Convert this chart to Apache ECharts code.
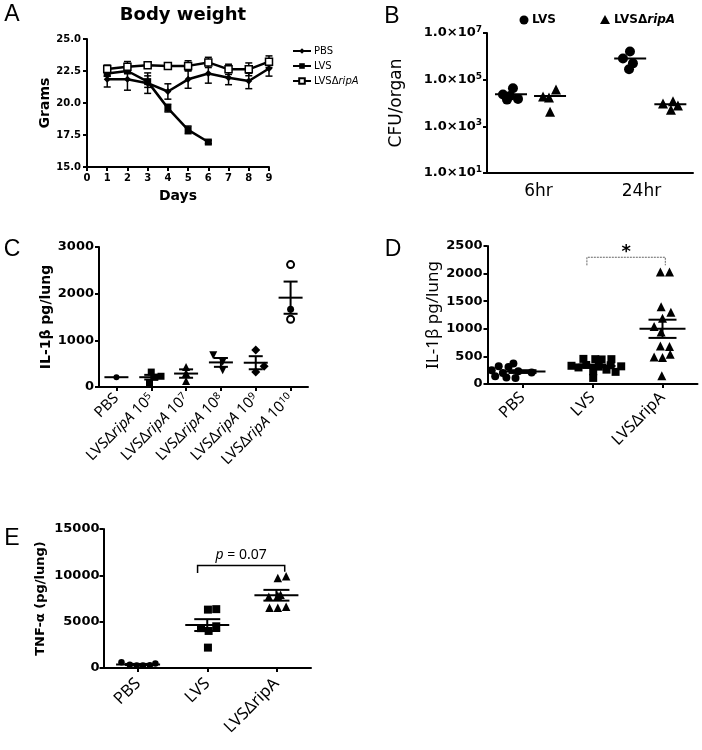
<!DOCTYPE html>
<html><head><meta charset="utf-8">
<script src="https://cdn.jsdelivr.net/npm/echarts@6/dist/echarts.min.js"></script>
<style>html,body{margin:0;padding:0;background:#fff}#c{width:702px;height:750px}</style>
</head><body><div id="c"></div>
<script>
// ---------- Panel A : body weight ----------
const aDays    = [1, 2, 3, 4, 5, 6, 7, 8, 9];
const aPBS     = [21.85, 21.85, 21.55, 20.9, 21.85, 22.3, 21.98, 21.72, 22.7];
const aPBSsem  = [0.6, 0.85, 0.8, 0.6, 0.7, 0.75, 0.55, 0.6, 0.6];
const aLVSdays = [1, 2, 3, 4, 5, 6];
const aLVS     = [22.3, 22.5, 21.67, 19.6, 17.9, 16.95];
const aLVSsem  = [0.2, 0.15, 0.45, 0.3, 0.3, 0.12];
const aRip     = [22.66, 22.84, 22.95, 22.9, 22.9, 23.17, 22.63, 22.63, 23.23];
const aRipSem  = [0.3, 0.4, 0.2, 0.1, 0.4, 0.4, 0.4, 0.5, 0.45];
const aXTicks  = [0, 9, 1];           // min, max, step
const aYTicks  = [15, 25, 2.5];

// ---------- Panel B : CFU/organ ----------
const bCategories = ['6hr', '24hr'];
const bLVS_6hr  = [4.3e4, 2.3e4, 2.0e4, 1.4e4, 1.5e4];
const bRip_6hr  = [3.8e4, 1.9e4, 1.7e4, 4.2e3];
const bLVS_24hr = [1.6e6, 8.1e5, 5.0e5, 2.8e5];
const bRip_24hr = [9.5e3, 1.2e4, 5.2e3, 7.9e3];
const bLVSMean  = [2.4e4, 8.1e5];
const bRipMean  = [2.0e4, 8.9e3];
// horizontal placement (category units, 0..2)
const bLVSx_6hr  = [0.252, 0.155, 0.223, 0.194, 0.301];
const bRipx_6hr  = [0.67, 0.544, 0.602, 0.612];
const bLVSx_24hr = [1.388, 1.32, 1.417, 1.379];
const bRipx_24hr = [1.709, 1.806, 1.786, 1.854];
const bLVSMeanX  = [0.233, 1.39];
const bRipMeanX  = [0.612, 1.78];

// ---------- Panel C : IL-1β dose ----------
const cCategories = ['PBS', 'LVSΔripA 10^5', 'LVSΔripA 10^7', 'LVSΔripA 10^8', 'LVSΔripA 10^9', 'LVSΔripA 10^10'];
const cValues = [[210], [320, 230, 210, 80], [430, 300, 130], [683, 539, 360], [791, 446, 323], [2623, 1668, 1452]];
const cJitter = [[0], [0, 0.28, 0.1, -0.05], [0, 0, 0], [-0.22, 0.05, 0.05], [0, 0.24, 0], [0, 0, 0]];
const cMean = [210, 210, 288, 527, 520, 1914];
const cSem  = [0, 50, 90, 95, 140, 345];

// ---------- Panel D : IL-1β ----------
const dCategories = ['PBS', 'LVS', 'LVSΔripA'];
const dPBS = [370, 320, 310, 250, 230, 210, 200, 140, 120, 110];
const dLVS = [455, 450, 445, 450, 345, 315, 340, 320, 300, 230, 260, 220, 110, 330];
const dRip = [2030, 2030, 1400, 1300, 1040, 1190, 940, 690, 680, 490, 480, 540, 150];
const dPBSj = [-0.13, -0.34, -0.2, -0.44, -0.06, 0.13, -0.28, -0.39, -0.23, -0.1];
const dLVSj = [-0.13, 0.04, 0.13, 0.27, -0.09, 0.09, 0.26, 0.41, -0.2, 0.01, 0.2, 0.33, 0.01, -0.3];
const dRipj = [-0.03, 0.1, -0.02, 0.12, -0.12, 0.0, -0.02, -0.03, 0.1, -0.12, 0.0, 0.11, -0.01];
const dMean = [225, 326, 1000];
const dSem  = [25, 25, 165];
const dBracket = [0.92, 2.04, 2296, 2150, 2150];   // x1, x2, top, leftEnd, rightEnd
const dSigText = '*';

// ---------- Panel E : TNF-α ----------
const eCategories = ['PBS', 'LVS', 'LVSΔripA'];
const ePBS = [620, 350, 280, 260, 300, 480];
const eLVS = [6300, 6350, 4300, 4000, 4500, 2200];
const eRip = [9700, 9900, 7700, 7800, 6500, 6500, 6600, 7900];
const ePBSj = [-0.24, -0.12, -0.02, 0.07, 0.17, 0.25];
const eLVSj = [0.01, 0.13, -0.09, 0.02, 0.13, 0.01];
const eRipj = [0.02, 0.14, -0.11, 0.02, -0.1, 0.02, 0.14, 0.06];
const eMean = [380, 4630, 7850];
const eSem  = [60, 640, 580];
const eBracket = [0.86, 2.12, 11057, 10265, 10400];
const eSigText = 'p = 0.07';

// ================= helpers =================
const BOLD = 'DejaVu Sans';
const SANS = 'Noto Sans';
const axisLineStyle = { show: true, onZero: false, lineStyle: { color: '#000', width: 2 } };
const axisTickStyle = { show: true, length: 4, lineStyle: { color: '#000', width: 2 } };

function errBars(capHalf, lw) {
  return function (params, api) {
    const x = api.value(0), lo = api.value(1), hi = api.value(2);
    const p1 = api.coord([x, lo]), p2 = api.coord([x, hi]);
    const st = { stroke: '#000', lineWidth: lw };
    return { type: 'group', children: [
      { type: 'line', shape: { x1: p1[0], y1: p1[1], x2: p2[0], y2: p2[1] }, style: st },
      { type: 'line', shape: { x1: p1[0] - capHalf, y1: p1[1], x2: p1[0] + capHalf, y2: p1[1] }, style: st },
      { type: 'line', shape: { x1: p2[0] - capHalf, y1: p2[1], x2: p2[0] + capHalf, y2: p2[1] }, style: st }
    ]};
  };
}
function meanSem(meanHalf, semHalf) {
  return function (params, api) {
    const x = api.value(0), m = api.value(1), s = api.value(2);
    const pm = api.coord([x, m]);
    const st = { stroke: '#000', lineWidth: 2 };
    const ch = [{ type: 'line', shape: { x1: pm[0] - meanHalf, y1: pm[1], x2: pm[0] + meanHalf, y2: pm[1] }, style: st }];
    if (s > 0) {
      const ph = api.coord([x, m + s]), pl = api.coord([x, m - s]);
      ch.push({ type: 'line', shape: { x1: ph[0], y1: ph[1], x2: pl[0], y2: pl[1] }, style: st });
      ch.push({ type: 'line', shape: { x1: ph[0] - semHalf, y1: ph[1], x2: ph[0] + semHalf, y2: ph[1] }, style: st });
      ch.push({ type: 'line', shape: { x1: pl[0] - semHalf, y1: pl[1], x2: pl[0] + semHalf, y2: pl[1] }, style: st });
    }
    return { type: 'group', children: ch };
  };
}
function bracket(stroke, lw, dash, text, font, gapAbove, rich) {
  return function (params, api) {
    const x1 = api.value(0), x2 = api.value(1), top = api.value(2), le = api.value(3), re = api.value(4);
    const a = api.coord([x1, le]), b = api.coord([x1, top]), c = api.coord([x2, top]), d = api.coord([x2, re]);
    const st = { stroke: stroke, lineWidth: lw, lineDash: dash, fill: null };
    return { type: 'group', children: [
      { type: 'polyline', shape: { points: [a, b, c, d] }, style: st },
      { type: 'text', x: (b[0] + c[0]) / 2, y: b[1] - gapAbove,
        style: { text: text, font: font, fill: '#000', align: 'center', verticalAlign: 'bottom', rich: rich } }
    ]};
  };
}
const zip = (xs, ys) => xs.map((x, i) => [x, ys[i]]);
const jit = (idx, vals, js) => vals.map((v, i) => [idx + js[i], v]);

// ================= option =================
const grids = [
  { left: 87, top: 39, width: 182, height: 128 },      // A
  { left: 487, top: 33, width: 206, height: 140 },     // B
  { left: 99, top: 247, width: 209, height: 140 },     // C
  { left: 487.5, top: 246, width: 210, height: 138 },  // D
  { left: 103.5, top: 529, width: 207.5, height: 139 } // E
];

const plain = v => String(v);
const boldLabel = (size, margin) => ({ color: '#000', fontFamily: BOLD, fontWeight: 'bold', fontSize: size, margin: margin, formatter: plain });
const catLabel = (size, margin) => ({ color: '#000', fontFamily: SANS, fontSize: size, rotate: 45, margin: margin, interval: 0 });

const cLabelFmt = function (name) {
  const m = name.match(/^LVSΔripA 10\^(\d+)$/);
  if (!m) return name;
  return 'LVSΔ{i|ripA} 10{s|' + m[1] + '}';
};

const xAxes = [
  { gridIndex: 0, type: 'value', min: aXTicks[0], max: aXTicks[1], interval: aXTicks[2],
    axisLine: axisLineStyle, axisTick: axisTickStyle, splitLine: { show: false },
    axisLabel: boldLabel(10, 6),
    name: 'Days', nameLocation: 'middle', nameGap: 22,
    nameTextStyle: { fontFamily: BOLD, fontWeight: 'bold', fontSize: 14, color: '#000' } },
  { gridIndex: 1, type: 'category', data: bCategories, axisLine: axisLineStyle, axisTick: { show: false },
    axisLabel: { color: '#000', fontFamily: BOLD, fontSize: 17, margin: 10 } },
  { gridIndex: 1, type: 'value', min: 0, max: 2, show: false },
  { gridIndex: 2, type: 'category', data: cCategories, axisLine: axisLineStyle,
    axisTick: Object.assign({ alignWithLabel: true }, axisTickStyle),
    axisLabel: Object.assign(catLabel(15, 9), { formatter: cLabelFmt,
      rich: { i: { fontFamily: SANS, fontSize: 15, fontStyle: 'italic', color: '#000' },
              s: { fontFamily: SANS, fontSize: 10, color: '#000', verticalAlign: 'top', lineHeight: 10 } } }) },
  { gridIndex: 2, type: 'value', min: -0.5, max: 5.5, show: false },
  { gridIndex: 3, type: 'category', data: dCategories, axisLine: axisLineStyle,
    axisTick: Object.assign({ alignWithLabel: true }, axisTickStyle), axisLabel: catLabel(16, 11) },
  { gridIndex: 3, type: 'value', min: -0.5, max: 2.5, show: false },
  { gridIndex: 4, type: 'category', data: eCategories, axisLine: axisLineStyle,
    axisTick: Object.assign({ alignWithLabel: true }, axisTickStyle), axisLabel: catLabel(16.5, 13) },
  { gridIndex: 4, type: 'value', min: -0.5, max: 2.5, show: false }
];

const yAxes = [
  { gridIndex: 0, type: 'value', min: aYTicks[0], max: aYTicks[1], interval: aYTicks[2],
    axisLine: axisLineStyle, axisTick: axisTickStyle, splitLine: { show: false },
    axisLabel: Object.assign(boldLabel(10, 6), { formatter: v => v.toFixed(1) }),
    name: 'Grams', nameLocation: 'middle', nameGap: 33,
    nameTextStyle: { fontFamily: BOLD, fontWeight: 'bold', fontSize: 14, color: '#000' } },
  { gridIndex: 1, type: 'log', logBase: 10, min: 10, max: 1e7, interval: 2,
    axisLine: axisLineStyle, axisTick: axisTickStyle, splitLine: { show: false }, minorTick: { show: false },
    axisLabel: { margin: 5, formatter: v => '{b|1.0×10}{s|' + Math.round(Math.log10(v)) + '}',
      rich: { b: { fontFamily: BOLD, fontWeight: 'bold', fontSize: 13, color: '#000', lineHeight: 16 },
              s: { fontFamily: BOLD, fontWeight: 'bold', fontSize: 9, color: '#000', verticalAlign: 'top', lineHeight: 9 } } },
    name: 'CFU/organ', nameLocation: 'middle', nameGap: 82,
    nameTextStyle: { fontFamily: BOLD, fontSize: 17, color: '#000' } },
  { gridIndex: 2, type: 'value', min: 0, max: 3000, interval: 1000,
    axisLine: axisLineStyle, axisTick: axisTickStyle, splitLine: { show: false }, axisLabel: boldLabel(13, 5),
    name: 'IL-1β pg/lung', nameLocation: 'middle', nameGap: 46,
    nameTextStyle: { fontFamily: BOLD, fontWeight: 'bold', fontSize: 14, color: '#000' } },
  { gridIndex: 3, type: 'value', min: 0, max: 2500, interval: 500,
    axisLine: axisLineStyle, axisTick: axisTickStyle, splitLine: { show: false }, axisLabel: boldLabel(13, 5),
    name: 'IL-1β pg/lung', nameLocation: 'middle', nameGap: 46,
    nameTextStyle: { fontFamily: SANS, fontSize: 17, color: '#000' } },
  { gridIndex: 4, type: 'value', min: 0, max: 15000, interval: 5000,
    axisLine: axisLineStyle, axisTick: axisTickStyle, splitLine: { show: false }, axisLabel: boldLabel(13, 4),
    name: 'TNF-α (pg/lung)', nameLocation: 'middle', nameGap: 56,
    nameTextStyle: { fontFamily: BOLD, fontWeight: 'bold', fontSize: 13, color: '#000' } }
];

const blk = { color: '#000', opacity: 1 };
const series = [];
// --- A ---
series.push({ name: 'PBS', type: 'line', xAxisIndex: 0, yAxisIndex: 0, data: zip(aDays, aPBS),
  symbol: 'diamond', symbolSize: 7, lineStyle: { color: '#000', width: 2.5 }, itemStyle: blk, z: 3 });
series.push({ name: 'LVS', type: 'line', xAxisIndex: 0, yAxisIndex: 0, data: zip(aLVSdays, aLVS),
  symbol: 'rect', symbolSize: 7, lineStyle: { color: '#000', width: 2.5 }, itemStyle: blk, z: 3 });
series.push({ name: 'LVSΔripA', type: 'line', xAxisIndex: 0, yAxisIndex: 0, data: zip(aDays, aRip),
  symbol: 'rect', symbolSize: 7, lineStyle: { color: '#000', width: 2.5 },
  itemStyle: { color: '#fff', borderColor: '#000', borderWidth: 1.5 }, z: 4 });
[[aDays, aPBS, aPBSsem], [aLVSdays, aLVS, aLVSsem], [aDays, aRip, aRipSem]].forEach((g, k) => {
  series.push({ name: 'errA' + k, type: 'custom', xAxisIndex: 0, yAxisIndex: 0, renderItem: errBars(3.5, 1.5),
    data: g[0].map((d, i) => [d, g[1][i] - g[2][i], g[1][i] + g[2][i]]), z: 2, silent: true });
});
// --- B ---
series.push({ name: 'bLVS', type: 'scatter', xAxisIndex: 2, yAxisIndex: 1, symbol: 'circle', symbolSize: 10, itemStyle: blk,
  data: zip(bLVSx_6hr, bLVS_6hr).concat(zip(bLVSx_24hr, bLVS_24hr)) });
series.push({ name: 'bRip', type: 'scatter', xAxisIndex: 2, yAxisIndex: 1, symbol: 'triangle', symbolSize: 10, itemStyle: blk,
  data: zip(bRipx_6hr, bRip_6hr).concat(zip(bRipx_24hr, bRip_24hr)) });
series.push({ name: 'bMean', type: 'custom', xAxisIndex: 2, yAxisIndex: 1, renderItem: meanSem(16, 0), silent: true,
  data: zip(bLVSMeanX, bLVSMean).concat(zip(bRipMeanX, bRipMean)).map(p => [p[0], p[1], 0]) });
// --- C ---
const cSymbols = [['circle', 6, 0], ['rect', 7, 0], ['triangle', 8, 0], ['triangle', 8, 180], ['diamond', 9, 0], ['circle', 7, 0]];
const cOpen = [[false], [false, false, false, false], [false, false, false], [false, false, false], [false, false, false], [true, false, true]];
cValues.forEach((vals, g) => {
  series.push({ name: 'c' + g, type: 'scatter', xAxisIndex: 4, yAxisIndex: 2,
    symbol: cSymbols[g][0], symbolSize: cSymbols[g][1], symbolRotate: cSymbols[g][2],
    data: vals.map((v, i) => ({ value: [g + cJitter[g][i], v],
      itemStyle: cOpen[g][i] ? { color: '#fff', borderColor: '#000', borderWidth: 2, opacity: 1 } : { color: '#000', opacity: 1 } })) });
});
series.push({ name: 'cMean', type: 'custom', xAxisIndex: 4, yAxisIndex: 2, renderItem: meanSem(12, 7), silent: true, z: 5,
  data: cMean.map((m, i) => [i, m, cSem[i]]) });
// --- D ---
series.push({ name: 'd0', type: 'scatter', xAxisIndex: 6, yAxisIndex: 3, symbol: 'circle', symbolSize: 8, itemStyle: blk, data: jit(0, dPBS, dPBSj) });
series.push({ name: 'd1', type: 'scatter', xAxisIndex: 6, yAxisIndex: 3, symbol: 'rect', symbolSize: 8, itemStyle: blk, data: jit(1, dLVS, dLVSj) });
series.push({ name: 'd2', type: 'scatter', xAxisIndex: 6, yAxisIndex: 3, symbol: 'triangle', symbolSize: 9, itemStyle: blk, data: jit(2, dRip, dRipj) });
series.push({ name: 'dMean', type: 'custom', xAxisIndex: 6, yAxisIndex: 3, renderItem: meanSem(23, 14), silent: true, z: 5,
  data: dMean.map((m, i) => [i, m, dSem[i]]) });
series.push({ name: 'dSig', type: 'custom', xAxisIndex: 6, yAxisIndex: 3, silent: true,
  renderItem: bracket('#666', 1, [2, 1], dSigText, 'bold 18px DejaVu Sans', -4), data: [dBracket] });
// --- E ---
series.push({ name: 'e0', type: 'scatter', xAxisIndex: 8, yAxisIndex: 4, symbol: 'circle', symbolSize: 6.5, itemStyle: blk, data: jit(0, ePBS, ePBSj) });
series.push({ name: 'e1', type: 'scatter', xAxisIndex: 8, yAxisIndex: 4, symbol: 'rect', symbolSize: 8, itemStyle: blk, data: jit(1, eLVS, eLVSj) });
series.push({ name: 'e2', type: 'scatter', xAxisIndex: 8, yAxisIndex: 4, symbol: 'triangle', symbolSize: 8.5, itemStyle: blk, data: jit(2, eRip, eRipj) });
series.push({ name: 'eMean', type: 'custom', xAxisIndex: 8, yAxisIndex: 4, renderItem: meanSem(22, 13), silent: true, z: 5,
  data: eMean.map((m, i) => [i, m, eSem[i]]) });
series.push({ name: 'eSig', type: 'custom', xAxisIndex: 8, yAxisIndex: 4, silent: true,
  renderItem: bracket('#000', 1.5, null, '{it|p} = 0.07', '14px Noto Sans', 4,
    { it: { fontStyle: 'italic', fontFamily: SANS, fontSize: 14, fill: '#000' } }),
  data: [eBracket] });

const letter = (t, x, y) => ({ type: 'text', x: x, y: y,
  style: { text: t, font: '23px "Liberation Sans"', fill: '#000', align: 'center', verticalAlign: 'middle' } });

const option = {
  animation: false,
  backgroundColor: '#fff',
  grid: grids,
  xAxis: xAxes,
  yAxis: yAxes,
  legend: { data: ['PBS', 'LVS', 'LVSΔripA'], orient: 'vertical', left: 287, top: 41,
    itemWidth: 18, itemHeight: 7, itemGap: 5, selectedMode: false,
    formatter: n => n === 'LVSΔripA' ? 'LVSΔ{i|ripA}' : n,
    textStyle: { fontFamily: BOLD, fontSize: 10, color: '#000', padding: [0, 0, 0, -2],
      rich: { i: { fontFamily: BOLD, fontSize: 10, fontStyle: 'italic', color: '#000' } } } },
  graphic: [
    letter('A', 12, 15), letter('B', 392, 17), letter('C', 12, 250), letter('D', 393, 250), letter('E', 12, 539),
    { type: 'text', x: 183, y: 15, style: { text: 'Body weight', font: 'bold 18px "DejaVu Sans"', fill: '#000', align: 'center', verticalAlign: 'middle' } },
    { type: 'circle', shape: { cx: 524, cy: 20, r: 4.5 }, style: { fill: '#000' } },
    { type: 'text', x: 532, y: 20, style: { text: 'LVS', font: 'bold 12px "DejaVu Sans"', fill: '#000', verticalAlign: 'middle' } },
    { type: 'polygon', shape: { points: [[605, 15], [610, 24], [600, 24]] }, style: { fill: '#000' } },
    { type: 'text', x: 614, y: 20, style: { text: 'LVSΔ{i|ripA}', font: 'bold 12px "DejaVu Sans"', fill: '#000', verticalAlign: 'middle',
      rich: { i: { font: 'italic bold 12px "DejaVu Sans"', fill: '#000' } } } }
  ],
  series: series
};
echarts.init(document.getElementById('c'), null, { renderer: 'canvas' }).setOption(option);
</script></body></html>
